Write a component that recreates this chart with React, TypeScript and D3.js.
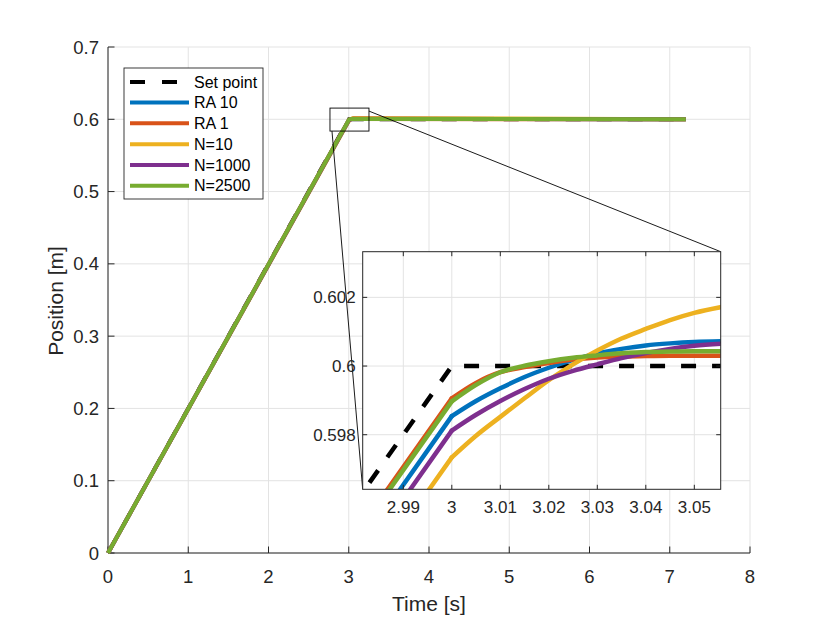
import * as d3 from 'd3';

// main axes ticks
const mainXTicks = [0, 1, 2, 3, 4, 5, 6, 7, 8];
const mainYTicks = [0, 0.1, 0.2, 0.3, 0.4, 0.5, 0.6, 0.7];
// zoomed axes ticks
const zoomXTicks = [2.99, 3.0, 3.01, 3.02, 3.03, 3.04, 3.05];
const zoomYTicks = [0.598, 0.6, 0.602];

// set point trajectory
const setTime = [0, 3, 7.2];
const setPos = [0, 0.6, 0.6];

// responses, all sampled at the same instants (index 2 = end of the ramp)
const time = [0, 2.98, 3.0, 3.005, 3.01, 3.015, 3.02, 3.025, 3.03, 3.035, 3.04, 3.045, 3.05, 3.056, 7.2];
const ra10 = [0, 0.59454, 0.59854, 0.59898, 0.59935, 0.59968, 0.59995, 0.60018, 0.60037, 0.6005, 0.6006, 0.60066, 0.6007, 0.60072, 0.6];
const ra1 = [0, 0.59506, 0.59906, 0.59951, 0.59982, 0.59997, 0.60009, 0.60019, 0.60025, 0.60028, 0.60029, 0.6003, 0.6003, 0.6003, 0.6];
const n10 = [0, 0.59334, 0.59734, 0.59797, 0.59852, 0.59906, 0.59959, 0.60005, 0.60045, 0.6008, 0.60108, 0.60134, 0.60155, 0.60173, 0.6];
const n1000 = [0, 0.59412, 0.59812, 0.59858, 0.59898, 0.59933, 0.59963, 0.59986, 0.60005, 0.60023, 0.60038, 0.6005, 0.60059, 0.60065, 0.6];
const n2500 = [0, 0.59497, 0.59897, 0.59945, 0.59982, 0.60001, 0.60014, 0.60024, 0.60031, 0.60037, 0.60041, 0.60042, 0.60043, 0.60043, 0.6];

const seriesNames = ['Set point', 'RA 10', 'RA 1', 'N=10', 'N=1000', 'N=2500'];
const seriesColors = ['#000000', '#0072BD', '#D95319', '#EDB120', '#7E2F8E', '#77AC30'];

// zoom box on the main axes (data units)
const boxX = [2.766, 3.252];
const boxY = [0.5837, 0.6155];

const FONT = '"Liberation Sans", Arial, Helvetica, sans-serif';
const INK = '#262626';
const GRID = '#e3e3e3';

type Pt = [number, number];

const series: { name: string; color: string; pts: Pt[]; dash?: string }[] = [
  { name: seriesNames[0], color: seriesColors[0], pts: setTime.map((t, i) => [t, setPos[i]]), dash: '15 16' },
  { name: seriesNames[1], color: seriesColors[1], pts: time.map((t, i) => [t, ra10[i]]) },
  { name: seriesNames[2], color: seriesColors[2], pts: time.map((t, i) => [t, ra1[i]]) },
  { name: seriesNames[3], color: seriesColors[3], pts: time.map((t, i) => [t, n10[i]]) },
  { name: seriesNames[4], color: seriesColors[4], pts: time.map((t, i) => [t, n1000[i]]) },
  { name: seriesNames[5], color: seriesColors[5], pts: time.map((t, i) => [t, n2500[i]]) },
];

const fmt = (v: number) => String(+v.toFixed(4));

export default function App() {
  const W = 830;
  const H = 623;

  const x = d3.scaleLinear().domain([0, 8]).range([108, 750]);
  const y = d3.scaleLinear().domain([0, 0.7]).range([553, 47]);

  const zx = d3.scaleLinear().domain([2.98163, 3.05544]).range([362.7, 720.7]);
  const zy = d3.scaleLinear().domain([0.59641, 0.60333]).range([489.3, 251.7]);

  const mainLine = d3.line<Pt>().x((d) => x(d[0])).y((d) => y(d[1]));
  const zoomRamp = d3.line<Pt>().x((d) => zx(d[0])).y((d) => zy(d[1]));
  const zoomSettle = d3
    .line<Pt>()
    .x((d) => zx(d[0]))
    .y((d) => zy(d[1]))
    .curve(d3.curveMonotoneX);

  const [zl, zr] = zx.range();
  const [zb, zt] = zy.range();
  const tick = 6.5;

  const legendRows = [82, 102.5, 123.3, 144.3, 165, 185.7];

  // ramp drawn straight, settling part smoothed (stop before the 7.2 s tail)
  const zoomPaths = (s: (typeof series)[number]) =>
    s.dash
      ? [zoomRamp(s.pts) ?? '']
      : [zoomRamp(s.pts.slice(0, 3)) ?? '', zoomSettle(s.pts.slice(2, -1)) ?? ''];

  return (
    <svg width={W} height={H} style={{ position: 'absolute', left: 0, top: 0, background: '#fff' }} fontFamily={FONT}>
      <rect x={0} y={0} width={W} height={H} fill="#fff" />
      <defs>
        <clipPath id="zclip">
          <rect x={zl} y={zt} width={zr - zl} height={zb - zt} />
        </clipPath>
      </defs>

      {/* main grid */}
      <g stroke={GRID} strokeWidth={1}>
        {mainXTicks.map((t) => (
          <line key={'gx' + t} x1={x(t)} x2={x(t)} y1={y(0)} y2={y(0.7)} />
        ))}
        {mainYTicks.map((t) => (
          <line key={'gy' + t} x1={x(0)} x2={x(8)} y1={y(t)} y2={y(t)} />
        ))}
      </g>

      {/* main axes */}
      <g stroke={INK} strokeWidth={1}>
        <line x1={x(0)} x2={x(8)} y1={y(0)} y2={y(0)} />
        <line x1={x(0)} x2={x(0)} y1={y(0)} y2={y(0.7)} />
        {mainXTicks.map((t) => (
          <line key={'tx' + t} x1={x(t)} x2={x(t)} y1={y(0)} y2={y(0) - tick} />
        ))}
        {mainYTicks.map((t) => (
          <line key={'ty' + t} x1={x(0)} x2={x(0) + tick} y1={y(t)} y2={y(t)} />
        ))}
      </g>
      <g fill={INK} fontSize={18.5}>
        {mainXTicks.map((t) => (
          <text key={'lx' + t} x={x(t)} y={y(0) + 30} textAnchor="middle">
            {fmt(t)}
          </text>
        ))}
        {mainYTicks.map((t) => (
          <text key={'ly' + t} x={x(0) - 9} y={y(t) + 6.5} textAnchor="end">
            {fmt(t)}
          </text>
        ))}
      </g>
      <text x={429} y={611} textAnchor="middle" fontSize={21} fill={INK}>
        Time [s]
      </text>
      <text transform="translate(63,301) rotate(-90)" textAnchor="middle" fontSize={21} fill={INK}>
        Position [m]
      </text>

      {/* main curves */}
      <g fill="none" strokeLinejoin="round">
        {series.map((s) => (
          <path key={'m' + s.name} d={mainLine(s.pts) ?? ''} stroke={s.color} strokeWidth={4} strokeDasharray={s.dash} />
        ))}
      </g>

      {/* zoom box and connectors */}
      <g fill="none" stroke="#000" strokeWidth={0.9}>
        <rect x={x(boxX[0])} y={y(boxY[1])} width={x(boxX[1]) - x(boxX[0])} height={y(boxY[0]) - y(boxY[1])} />
        <line x1={x(boxX[0]) + 2} y1={y(boxY[0])} x2={zl} y2={zb} />
        <line x1={x(boxX[1])} y1={y(boxY[1]) + 3} x2={zr} y2={zt} />
      </g>

      {/* legend */}
      <g>
        <rect x={124} y={68} width={139} height={131} fill="#fff" stroke={INK} strokeWidth={0.9} />
        {series.map((s, i) => (
          <g key={'lg' + s.name}>
            <line
              x1={130}
              x2={189}
              y1={legendRows[i]}
              y2={legendRows[i]}
              stroke={s.color}
              strokeWidth={4}
              strokeDasharray={s.dash ? '15 17' : undefined}
            />
            <text x={194} y={legendRows[i] + 5.5} fontSize={16} fill="#000">
              {s.name}
            </text>
          </g>
        ))}
      </g>

      {/* inset axes */}
      <rect x={zl} y={zt} width={zr - zl} height={zb - zt} fill="#fff" />
      <g stroke={GRID} strokeWidth={1}>
        {zoomXTicks.map((t) => (
          <line key={'zgx' + t} x1={zx(t)} x2={zx(t)} y1={zb} y2={zt} />
        ))}
        {zoomYTicks.map((t) => (
          <line key={'zgy' + t} x1={zl} x2={zr} y1={zy(t)} y2={zy(t)} />
        ))}
      </g>
      <g fill="none" strokeLinejoin="round" clipPath="url(#zclip)">
        {series.map((s) =>
          zoomPaths(s).map((d, k) => (
            <path
              key={'z' + s.name + k}
              d={d}
              stroke={s.color}
              strokeWidth={4.5}
              strokeDasharray={s.dash}
              strokeLinecap={s.dash ? 'butt' : 'round'}
            />
          )),
        )}
      </g>
      <g stroke={INK} strokeWidth={1}>
        <rect x={zl} y={zt} width={zr - zl} height={zb - zt} fill="none" />
        {zoomXTicks.map((t) => (
          <g key={'ztx' + t}>
            <line x1={zx(t)} x2={zx(t)} y1={zb} y2={zb - 4.5} />
            <line x1={zx(t)} x2={zx(t)} y1={zt} y2={zt + 4.5} />
          </g>
        ))}
        {zoomYTicks.map((t) => (
          <g key={'zty' + t}>
            <line x1={zl} x2={zl + 4.5} y1={zy(t)} y2={zy(t)} />
            <line x1={zr} x2={zr - 4.5} y1={zy(t)} y2={zy(t)} />
          </g>
        ))}
      </g>
      <g fill={INK} fontSize={17}>
        {zoomXTicks.map((t) => (
          <text key={'zlx' + t} x={zx(t)} y={zb + 24} textAnchor="middle">
            {fmt(t)}
          </text>
        ))}
        {zoomYTicks.map((t) => (
          <text key={'zly' + t} x={zl - 7} y={zy(t) + 6} textAnchor="end">
            {fmt(t)}
          </text>
        ))}
      </g>
    </svg>
  );
}
